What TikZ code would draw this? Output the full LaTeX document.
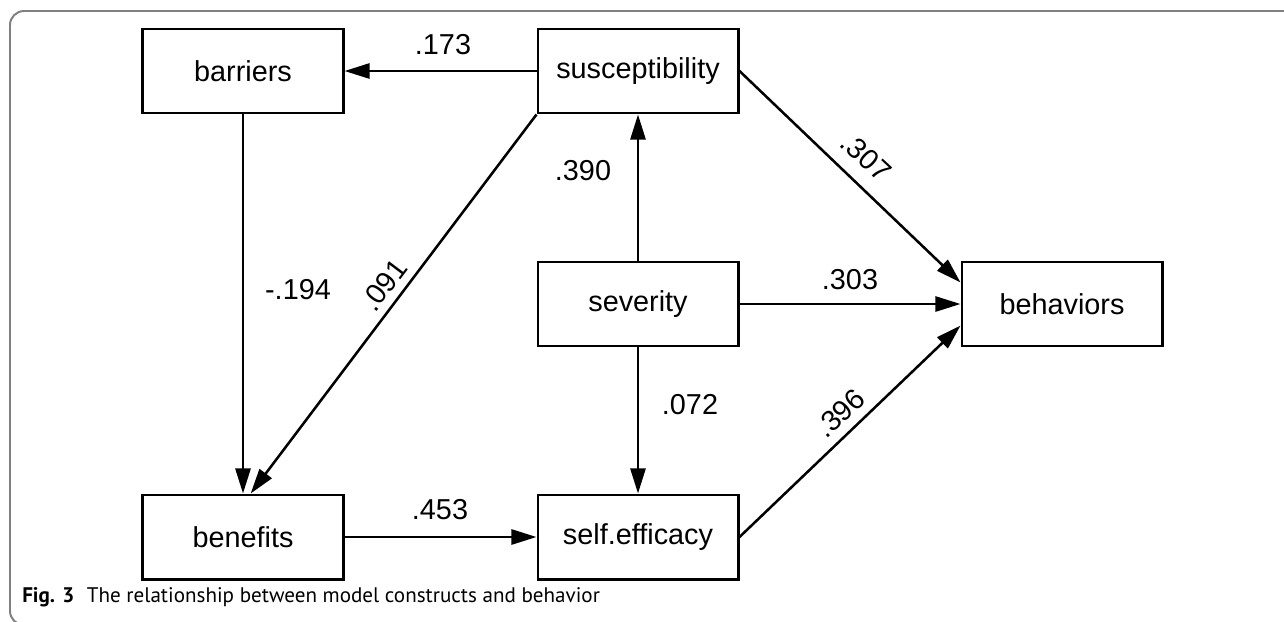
\documentclass[tikz,border=0pt]{standalone}
\usepackage{fontspec}
\setmainfont{Liberation Sans}
\newfontfamily\capfont{PT Sans}
\usetikzlibrary{arrows.meta}

\begin{document}
\begin{tikzpicture}[x=0.025cm,y=-0.025cm]
    \tikzstyle{every node}+=[inner sep=0pt]
    \tikzstyle{box}=[draw=black,line width=2.1pt,minimum width=5cm,minimum height=2.1cm,font=\fontsize{20.5}{24}\selectfont]
    \tikzstyle{link}=[black,line width=1.8pt,-{Triangle[length=17.8pt,width=10.7pt]}]
    \tikzstyle{coef}=[font=\fontsize{20.5}{24}\selectfont]
    \useasboundingbox (0,0) rectangle (1284,621);
    \clip (0,0) rectangle (1284,621);
    \draw [gray,line width=1.4pt,rounded corners=10] (1300,11) -- (10,11) -- (10,625) -- (60,625);
    \node [box] (barriers) at (243,71) {barriers};
    \node [box] (suscept) at (638,71) {susceptibility};
    \node [box] (severity) at (638,304) {severity};
    \node [box] (behaviors) at (1062,304) {behaviors};
    \node [box] (benefits) at (243,537) {benefits};
    \node [box] (efficacy) at (638,537) {self.efficacy};
    \draw [link] (suscept.west) -- (barriers.east);
    \node [coef] (c173) at (443,45) {.173};
    \draw [link] (barriers.south) -- (benefits.north);
    \node [coef] (c194) at (298,290) {-.194};
    \draw [link] (suscept.south west) -- (benefits.80);
    \node [coef,rotate=53] (c091) at (384,285) {.091};
    \draw [link] (severity.north) -- (suscept.south);
    \node [coef] (c390) at (583,171) {.390};
    \draw [link] (suscept.east) -- (behaviors.168);
    \node [coef,rotate=-43] (c307) at (866,157) {.307};
    \draw [link] (severity.east) -- (behaviors.west);
    \node [coef] (c303) at (850,280) {.303};
    \draw [link] (severity.south) -- (efficacy.north);
    \node [coef] (c072) at (690,405) {.072};
    \draw [link] (efficacy.east) -- (behaviors.192);
    \node [coef,rotate=43] (c396) at (840,413) {.396};
    \draw [link] (benefits.east) -- (efficacy.west);
    \node [coef] (c453) at (440,510) {.453};
    \node [anchor=west,font=\capfont\fontsize{15}{18}\selectfont] (caption) at (22,597) {\textbf{Fig. 3}\hspace{0.6em}The relationship between model constructs and behavior};
\end{tikzpicture}
\end{document}
